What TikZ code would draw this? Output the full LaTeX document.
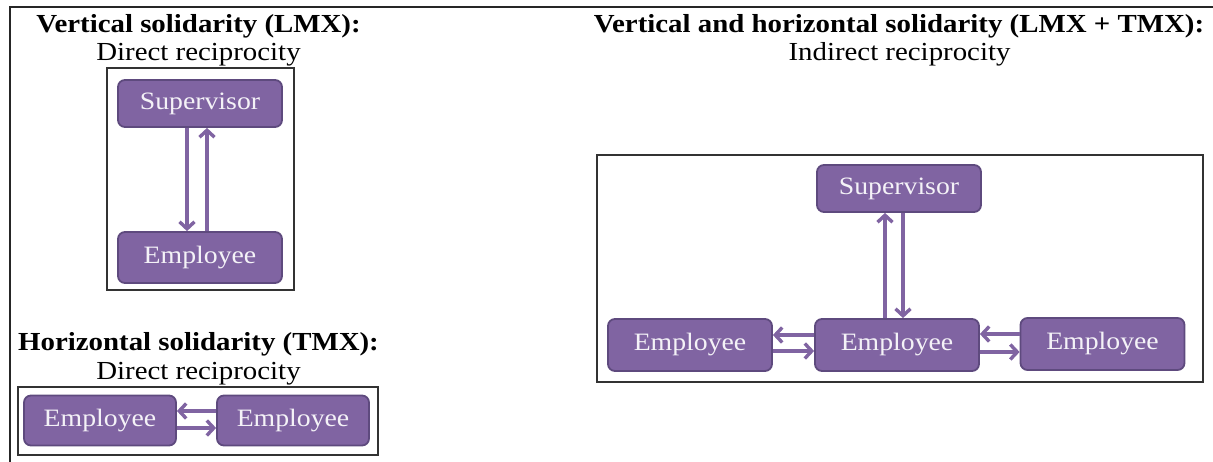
\documentclass[tikz,border=0pt]{standalone}
\usepackage{fontspec}
\setmainfont[FakeStretch=1.11]{Liberation Serif}
\usetikzlibrary{arrows.meta}

\definecolor{rolefill}{HTML}{8064A2}
\definecolor{roleedge}{HTML}{5E4A7E}
\definecolor{roletext}{HTML}{F4F2F7}

\begin{document}
\begin{tikzpicture}[x=1pt, y=-1pt, >={Straight Barb[length=7pt,width=15pt]},
  role/.style={draw=roleedge, line width=1.8pt, fill=rolefill, rounded corners=7pt,
    text=roletext, font=\fontsize{25}{30}\selectfont, minimum width=164pt,
    minimum height=#1, inner sep=0pt},
  role/.default=50pt,
  link/.style={->, draw=rolefill, line width=3.4pt},
  heading/.style={anchor=base, font=\fontsize{26}{31}\selectfont\bfseries},
  subheading/.style={anchor=base, font=\fontsize{26}{31}\selectfont},
  panel/.style={draw=black!80, line width=1.2pt}]
\useasboundingbox (0,0) rectangle (1213,462);

% outer rule
\draw[line width=2pt, black!85] (1213,7) -- (10,7) -- (10,462);

% vertical solidarity
\node[heading] (vtitle) at (198.5,32.5) {Vertical solidarity (LMX):};
\node[subheading] (vsub) at (198.5,61) {Direct reciprocity};
\draw[panel] (107,68) rectangle (294,290);
\node[role=47pt] (vsup) at (200,103.5) {Supervisor};
\node[role=51pt] (vemp) at (200,257.5) {Employee};
\draw[link] ([xshift=-13pt]vsup.south) -- ([xshift=-13pt]vemp.north);
\draw[link] ([xshift=7pt]vemp.north) -- ([xshift=7pt]vsup.south);

% horizontal solidarity
\node[heading] (htitle) at (198.5,350) {Horizontal solidarity (TMX):};
\node[subheading] (hsub) at (198.5,379) {Direct reciprocity};
\draw[panel] (18,387) rectangle (378,455);
\node[role, minimum width=152pt] (hleft) at (100,420.5) {Employee};
\node[role, minimum width=152pt] (hright) at (293,420.5) {Employee};
\draw[link] ([yshift=9.5pt]hright.west) -- ([yshift=9.5pt]hleft.east);
\draw[link] ([yshift=-7.5pt]hleft.east) -- ([yshift=-7.5pt]hright.west);

% vertical and horizontal solidarity
\node[heading] (btitle) at (899,32.5) {Vertical and horizontal solidarity (LMX + TMX):};
\node[subheading] (bsub) at (899.5,61) {Indirect reciprocity};
\draw[panel] (597,155) rectangle (1203,382);
\node[role=47pt] (bsup) at (899,188.5) {Supervisor};
\node[role=52pt] (bemp) at (897,345) {Employee};
\node[role=52pt] (bleft) at (690,345) {Employee};
\node[role=52pt] (bright) at (1102.5,344) {Employee};
\draw[link] ([xshift=-12pt]bemp.north) -- ([xshift=-12pt]bemp.north |- bsup.south);
\draw[link] ([xshift=6pt]bemp.north |- bsup.south) -- ([xshift=6pt]bemp.north);
\draw[link] ([yshift=10pt]bemp.west) -- ([yshift=10pt]bemp.west -| bleft.east);
\draw[link] ([yshift=-6pt]bemp.west -| bleft.east) -- ([yshift=-6pt]bemp.west);
\draw[link] ([yshift=10pt]bright.west) -- ([yshift=10pt]bright.west -| bemp.east);
\draw[link] ([yshift=-7pt]bemp.east) -- ([yshift=-7pt]bemp.east -| bright.west);
\end{tikzpicture}
\end{document}
